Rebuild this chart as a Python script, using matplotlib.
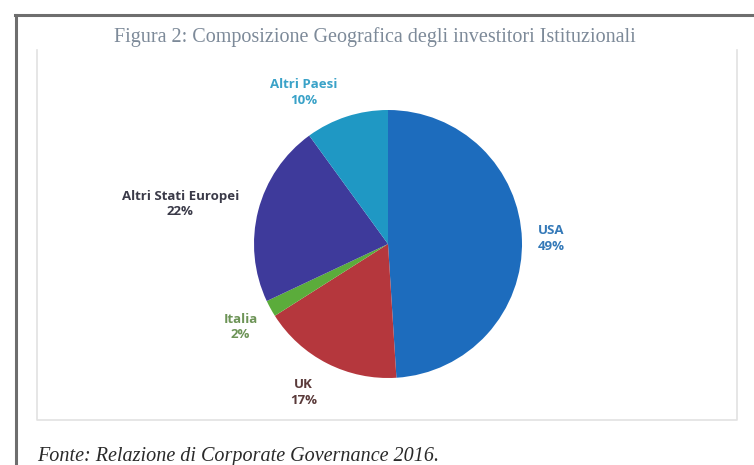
import matplotlib.pyplot as plt
from matplotlib.lines import Line2D

# Composizione geografica degli investitori istituzionali (%)
paesi = ["USA", "UK", "Italia", "Altri Stati Europei", "Altri Paesi"]
quote = [49, 17, 2, 22, 10]
colori = ["#1d6cbd", "#b5373d", "#5bac3b", "#3e3a9b", "#1f98c4"]
colori_testo = ["#3479b8", "#5a3a3a", "#6d9457", "#3a3a48", "#3aa2c8"]
# posizione delle etichette, in raggi dal centro della torta
pos_etichette = [(1.22, 0.04), (-0.63, -1.11), (-1.10, -0.62), (-1.55, 0.30), (-0.63, 1.13)]

W, H = 754, 465
fig = plt.figure(figsize=(W / 100, H / 100), dpi=100)


def px(x, y):
    return x / W, 1 - y / H


# cornice della pagina
fig.add_artist(Line2D([15 / W, 1], [1 - 15 / H] * 2, color="#6e6e6e", lw=2.2))
fig.add_artist(Line2D([16 / W] * 2, [1 - 15 / H, 0], color="#6e6e6e", lw=2.2))
# riquadro chiaro del grafico
box_x = [37, 37, 737, 737]
box_y = [50, 420, 420, 50]
fig.add_artist(Line2D([x / W for x in box_x], [1 - y / H for y in box_y],
                      color="#e2e2e2", lw=1.2))

cx, cy, r = 388, 244, 134
ax = fig.add_axes([(cx - r) / W, 1 - (cy + r) / H, 2 * r / W, 2 * r / H])
ax.pie(quote, colors=colori, startangle=90, counterclock=False, radius=1,
       wedgeprops=dict(linewidth=0))
ax.set_xlim(-1, 1)
ax.set_ylim(-1, 1)
ax.set_aspect("auto")
ax.axis("off")

for nome, q, col, (x, y) in zip(paesi, quote, colori_testo, pos_etichette):
    ax.text(x, y, f"{nome}\n{q}%", ha="center", va="center", fontsize=9.5,
            fontweight="bold", color=col, family="Open Sans", linespacing=1.25,
            clip_on=False)

fig.text(*px(375, 37), "Figura 2: Composizione Geografica degli investitori Istituzionali",
         ha="center", va="center", fontsize=14.5, color="#7d8a99", family="Liberation Serif")
fig.text(*px(37, 456), "Fonte: Relazione di Corporate Governance 2016.",
         ha="left", va="center", fontsize=14.5, style="italic", color="#2a2a2a",
         family="Liberation Serif")

fig.savefig("out.png", dpi=100)
